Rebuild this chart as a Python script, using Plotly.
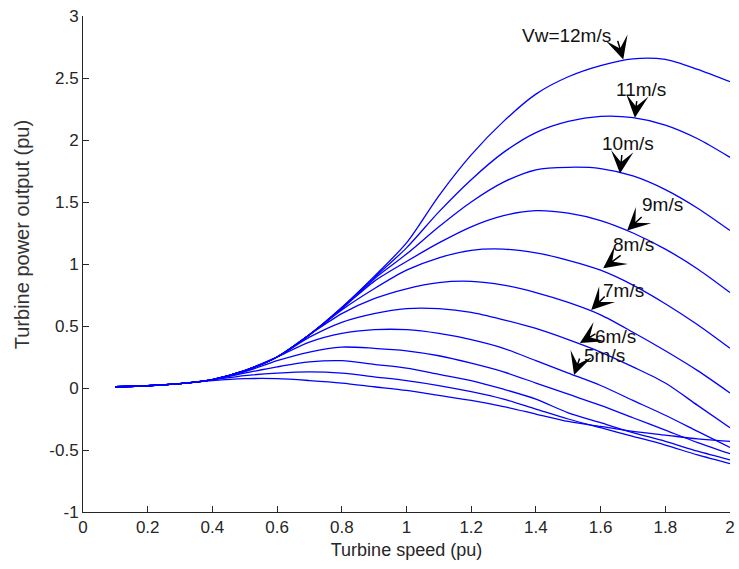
import plotly.graph_objects as go

# Turbine speed (pu)
speed = [0.1, 0.2, 0.3, 0.4, 0.5, 0.6, 0.7, 0.8, 0.9, 1.0,
         1.1, 1.2, 1.3, 1.4, 1.5, 1.6, 1.7, 1.8, 1.9, 2.0]

# Turbine power output (pu) for each wind speed curve
p12 = [0.01, 0.018, 0.035, 0.068, 0.14, 0.25, 0.43, 0.65, 0.90, 1.17,
       1.55, 1.88, 2.15, 2.37, 2.51, 2.60, 2.655, 2.65, 2.57, 2.47]
p11 = [0.01, 0.018, 0.035, 0.068, 0.14, 0.25, 0.43, 0.65, 0.89, 1.13,
       1.42, 1.68, 1.90, 2.06, 2.15, 2.19, 2.18, 2.12, 2.01, 1.86]
p10 = [0.01, 0.018, 0.035, 0.068, 0.14, 0.25, 0.43, 0.64, 0.88, 1.08,
       1.30, 1.50, 1.66, 1.76, 1.78, 1.77, 1.71, 1.60, 1.45, 1.27]
p9 = [0.01, 0.018, 0.035, 0.068, 0.14, 0.25, 0.43, 0.64, 0.86, 1.02,
      1.17, 1.30, 1.39, 1.43, 1.41, 1.35, 1.25, 1.12, 0.96, 0.77]
p8 = [0.01, 0.018, 0.035, 0.068, 0.14, 0.25, 0.43, 0.63, 0.80, 0.95,
      1.05, 1.11, 1.12, 1.09, 1.03, 0.95, 0.83, 0.68, 0.51, 0.32]
p7 = [0.01, 0.018, 0.035, 0.068, 0.14, 0.25, 0.43, 0.60, 0.72, 0.80,
      0.85, 0.86, 0.83, 0.77, 0.69, 0.59, 0.45, 0.30, 0.14, -0.04]
p6 = [0.01, 0.018, 0.035, 0.068, 0.14, 0.25, 0.41, 0.53, 0.60, 0.64,
      0.64, 0.61, 0.55, 0.48, 0.39, 0.29, 0.17, 0.04, -0.14, -0.32]
p5 = [0.01, 0.018, 0.035, 0.068, 0.14, 0.25, 0.37, 0.44, 0.47, 0.47,
      0.44, 0.39, 0.32, 0.22, 0.12, 0.02, -0.10, -0.22, -0.35, -0.48]
p4 = [0.01, 0.018, 0.035, 0.068, 0.13, 0.22, 0.29, 0.33, 0.32, 0.30,
      0.26, 0.20, 0.13, 0.04, -0.05, -0.14, -0.24, -0.34, -0.44, -0.53]
p3 = [0.01, 0.018, 0.035, 0.068, 0.12, 0.17, 0.21, 0.22, 0.19, 0.16,
      0.11, 0.06, -0.01, -0.09, -0.20, -0.28, -0.36, -0.43, -0.51, -0.58]
p2 = [0.01, 0.018, 0.035, 0.065, 0.10, 0.12, 0.13, 0.12, 0.09, 0.06,
      0.02, -0.03, -0.09, -0.17, -0.25, -0.32, -0.39, -0.46, -0.54, -0.61]
p1 = [0.01, 0.018, 0.035, 0.06, 0.075, 0.075, 0.06, 0.04, 0.01, -0.02,
      -0.06, -0.10, -0.15, -0.21, -0.27, -0.31, -0.35, -0.38, -0.41, -0.43]

curves = [p12, p11, p10, p9, p8, p7, p6, p5, p4, p3, p2, p1]

x_ticks = [0, 0.2, 0.4, 0.6, 0.8, 1, 1.2, 1.4, 1.6, 1.8, 2]
x_tick_text = ["0", "0.2", "0.4", "0.6", "0.8", "1", "1.2", "1.4", "1.6", "1.8", "2"]
y_ticks = [-1, -0.5, 0, 0.5, 1, 1.5, 2, 2.5, 3]
y_tick_text = ["-1", "-0.5", "0", "0.5", "1", "1.5", "2", "2.5", "3"]

# label text, text centre (data), arrow tip (data)
labels = ["Vw=12m/s", "11m/s", "10m/s", "9m/s", "8m/s", "7m/s", "6m/s", "5m/s"]
label_x = [1.496, 1.725, 1.685, 1.790, 1.703, 1.672, 1.645, 1.611]
label_y = [2.839, 2.411, 1.968, 1.476, 1.161, 0.790, 0.419, 0.262]
tip_x = [1.670, 1.706, 1.660, 1.682, 1.608, 1.571, 1.536, 1.518]
tip_y = [2.650, 2.180, 1.730, 1.270, 0.965, 0.629, 0.363, 0.105]
tail_dx = [-6, 2, 2, 16, 19, 15, 17, 6]
tail_dy = [-20, -18, -20, -15, -14, -15, -10, -18]

FONT = "Liberation Sans, Arial, sans-serif"

fig = go.Figure()
for c in curves:
    fig.add_trace(go.Scatter(x=speed, y=c, mode="lines",
                             line=dict(color="#0000ff", width=1.3, shape="spline", smoothing=0.8),
                             showlegend=False, hoverinfo="skip", cliponaxis=False))

annotations = []
for i, t in enumerate(labels):
    annotations.append(dict(x=label_x[i], y=label_y[i], xref="x", yref="y", text=t,
                            showarrow=False, font=dict(family=FONT, size=19, color="#111111")))
    annotations.append(dict(x=tip_x[i], y=tip_y[i], xref="x", yref="y", text="",
                            showarrow=True, arrowhead=3, arrowsize=2.5, arrowwidth=1.5,
                            arrowcolor="#000000", ax=tail_dx[i], ay=tail_dy[i]))

# y-axis title placed as rotated text
annotations.append(dict(x=-0.0943, y=0.56, xref="paper", yref="paper",
                        text="Turbine power output (pu)", textangle=-90, showarrow=False,
                        xanchor="center", yanchor="middle",
                        font=dict(family=FONT, size=20, color="#333333")))

fig.update_layout(
    width=739, height=569,
    margin=dict(l=83, r=9, t=16, b=57, autoexpand=False),
    paper_bgcolor="white", plot_bgcolor="white",
    font=dict(family=FONT, size=17, color="#262626"),
    annotations=annotations,
    xaxis=dict(range=[0, 2], tickvals=x_ticks, ticktext=x_tick_text, automargin=False,
               showgrid=False, zeroline=False, showline=True, linecolor="#262626", linewidth=1,
               ticks="inside", ticklen=6, tickcolor="#262626",
               title=dict(text="Turbine speed (pu)", standoff=6,
                          font=dict(family=FONT, size=18, color="#262626"))),
    yaxis=dict(range=[-1, 3], tickvals=y_ticks, ticktext=y_tick_text, automargin=False,
               showgrid=False, zeroline=False, showline=True, linecolor="#262626", linewidth=1,
               ticks="inside", ticklen=6, tickcolor="#262626"),
)

fig.write_html("out.html")
